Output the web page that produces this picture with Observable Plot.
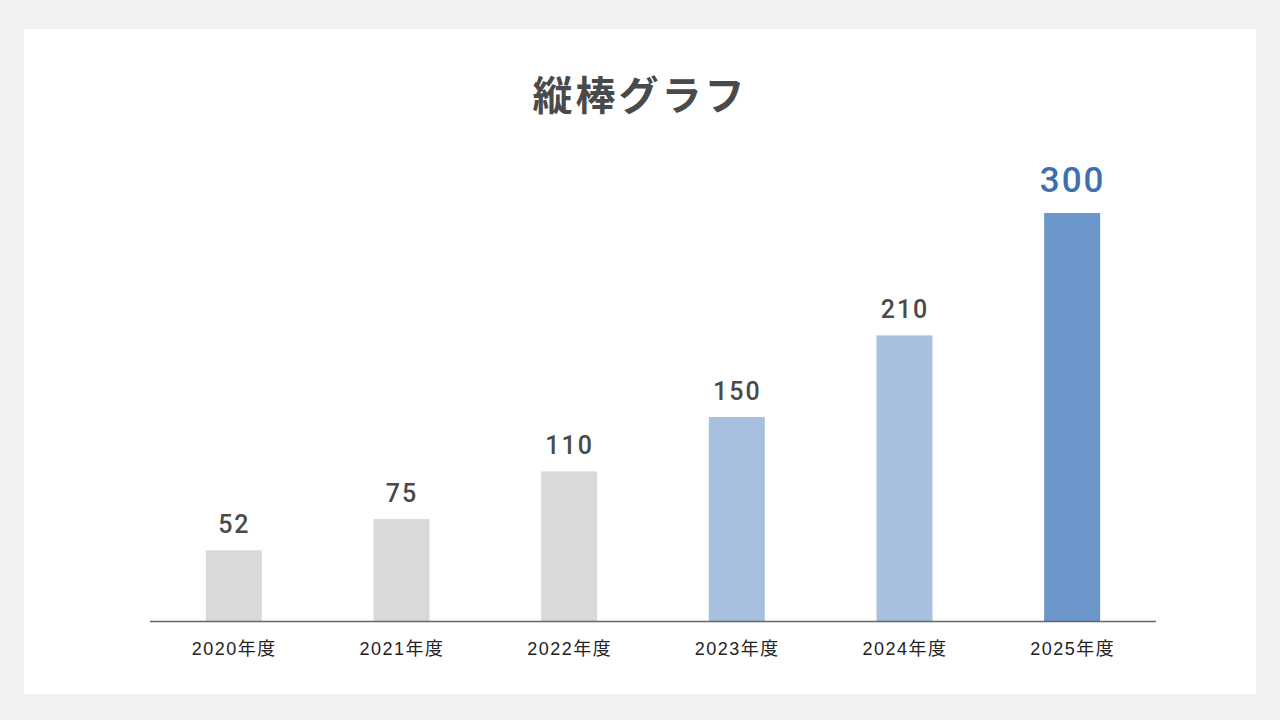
<!DOCTYPE html>
<html><head><meta charset="utf-8">
<script src="https://cdn.jsdelivr.net/npm/d3@7"></script>
<script src="https://cdn.jsdelivr.net/npm/@observablehq/plot@0.6"></script>
<style>
html,body{margin:0;padding:0;background:#f2f2f2;width:1280px;height:720px;overflow:hidden;font-family:"Noto Sans CJK JP","Noto Sans",sans-serif;}
#card{position:absolute;left:24px;top:29px;width:1232px;height:665px;background:#fff;}
#title{height:88px;box-sizing:border-box;padding-top:40px;text-align:center;font-size:40px;line-height:48px;font-weight:700;color:#4a4a4a;letter-spacing:3px;margin:0}
#chart svg{display:block}
#chart g[aria-label="x-axis tick label"] text{letter-spacing:1.5px}
#chart g[aria-label="text"] text{letter-spacing:2px}
</style></head><body>
<div id="card"><div id="title">縦棒グラフ</div><div id="chart"></div></div>
<script>
const years = ["2020年度","2021年度","2022年度","2023年度","2024年度","2025年度"];
const values = [52, 75, 110, 150, 210, 300];
const groups = ["過去","過去","過去","直近","直近","最新"];
const groupNames = ["過去","直近","最新"];
const groupColors = ["#d9d9d9","#a8c0e0","#6b96c9"];

const data = years.map((y,i)=>({year:y, value:values[i], group:groups[i]}));
const normal = data.filter(d=>d.group!=="最新");
const latest = data.filter(d=>d.group==="最新");
const numFont = 'Roboto,"Liberation Sans",sans-serif';

const chart = Plot.plot({
  width:1232, height:577,
  marginLeft:126, marginRight:100, marginTop:96, marginBottom:73,
  x:{domain:years, paddingInner:0.666, paddingOuter:0.333, round:false, label:null},
  y:{domain:[0,300], axis:null},
  color:{domain:groupNames, range:groupColors},
  style:{fontFamily:'"Liberation Sans","Noto Sans CJK JP",sans-serif', background:"transparent"},
  marks:[
    Plot.barY(data,{x:"year", y:"value", fill:"group"}),
    Plot.ruleY([0],{stroke:"#666", strokeWidth:1.5}),
    Plot.axisX({tickSize:0, tickPadding:21, fontSize:18, fill:"#222", label:null}),
    Plot.text(normal,{x:"year", y:"value", text:d=>String(d.value), dy:-26, lineAnchor:"middle", fontSize:25, fontWeight:500, fontFamily:numFont, fill:"#4a4a4a"}),
    Plot.text(latest,{x:"year", y:"value", text:d=>String(d.value), dy:-33, lineAnchor:"middle", fontSize:35, fontWeight:500, fontFamily:numFont, fill:"#3f6fb0"})
  ]
});
document.getElementById("chart").appendChild(chart);
</script>
</body></html>
